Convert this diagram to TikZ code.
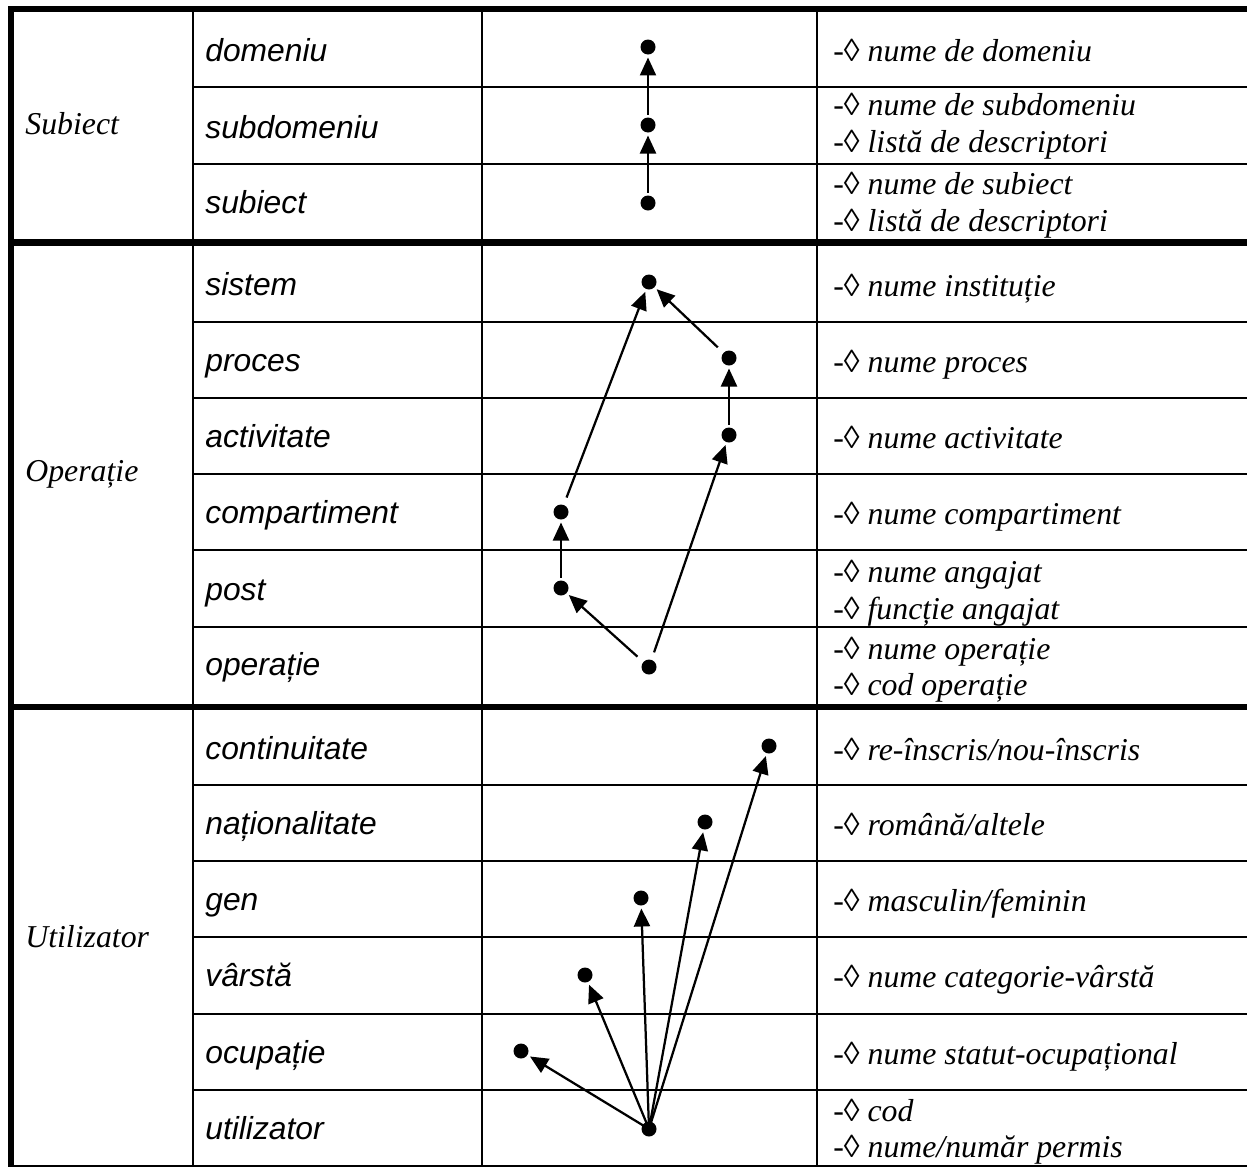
\documentclass[tikz,border=0pt]{standalone}
\usepackage{fontspec}
\setmainfont{Liberation Serif}
\newfontfamily\arialfont{Liberation Sans}
\usetikzlibrary{arrows.meta}

% one attribute line: upright dash and lozenge, italic name
\newcommand\attrtxt[1]{\textup{-\char"25CA}~\textit{#1}}

\begin{document}
\begin{tikzpicture}[x=0.02cm,y=-0.02cm,
  thinrule/.style={line width=0.04cm},
  thickrule/.style={line width=0.13cm},
  grp/.style={anchor=base west, inner sep=0, font=\fontsize{18.1pt}{21pt}\selectfont\itshape},
  item/.style={anchor=base west, inner sep=0, font=\fontsize{18.1pt}{21pt}\selectfont\arialfont\itshape},
  attr/.style={anchor=base west, inner sep=0, font=\fontsize{18.1pt}{21pt}\selectfont},
  dot/.style={circle, fill, inner sep=0, minimum size=0.3cm, outer sep=0.06cm},
  link/.style={line width=0.045cm, -{Triangle[length=0.36cm,width=0.32cm]}},
]
\useasboundingbox (0,0) rectangle (1247,1167);

% ---- table rules ----
\foreach \y in {87,164,322,398,474,550,627,785,861,937,1014,1090}
  \draw[thinrule] (193,\y) -- (1247,\y);
\foreach \x in {193,482,817}
  \draw[thinrule] (\x,9) -- (\x,1167);
\draw[thinrule] (11,1166) -- (1247,1166);
\draw[thickrule] (8,9) -- (1247,9);
\draw[thickrule] (11,242.5) -- (1247,242.5);
\draw[thickrule] (11,707) -- (1247,707);
\draw[line width=0.13cm] (11,6) -- (11,1167);

% ---- group labels ----
\node[grp] (gSubiect) at (25,134) {Subiect};
\node[grp] (gOperatie) at (25,481) {Operație};
\node[grp] (gUtilizator) at (25,947) {Utilizator};

% ---- level names ----
\node[item] (nDom) at (205,61) {domeniu};
\node[item] (nSubdom) at (205,138) {subdomeniu};
\node[item] (nSubj) at (205,213) {subiect};
\node[item] (nSis) at (205,295) {sistem};
\node[item] (nPro) at (205,371) {proces};
\node[item] (nAct) at (205,447) {activitate};
\node[item] (nComp) at (205,523) {compartiment};
\node[item] (nPost) at (205,600) {post};
\node[item] (nOp) at (205,675) {operație};
\node[item] (nCont) at (205,759) {continuitate};
\node[item] (nNat) at (205,834) {naționalitate};
\node[item] (nGen) at (205,910) {gen};
\node[item] (nVar) at (205,986) {vârstă};
\node[item] (nOcup) at (205,1063) {ocupație};
\node[item] (nUtil) at (205,1139) {utilizator};

% ---- attributes ----
\node[attr] (aDom) at (833,61) {\attrtxt{nume de domeniu}};
\node[attr] (aSub1) at (833,115) {\attrtxt{nume de subdomeniu}};
\node[attr] (aSub2) at (833,152) {\attrtxt{listă de descriptori}};
\node[attr] (aSubj1) at (833,194) {\attrtxt{nume de subiect}};
\node[attr] (aSubj2) at (833,231) {\attrtxt{listă de descriptori}};
\node[attr] (aSis) at (833,296) {\attrtxt{nume instituție}};
\node[attr] (aPro) at (833,372) {\attrtxt{nume proces}};
\node[attr] (aAct) at (833,448) {\attrtxt{nume activitate}};
\node[attr] (aComp) at (833,524) {\attrtxt{nume compartiment}};
\node[attr] (aPost1) at (833,582) {\attrtxt{nume angajat}};
\node[attr] (aPost2) at (833,619) {\attrtxt{funcție angajat}};
\node[attr] (aOp1) at (833,659) {\attrtxt{nume operație}};
\node[attr] (aOp2) at (833,695) {\attrtxt{cod operație}};
\node[attr] (aCont) at (833,760) {\attrtxt{re-înscris/nou-înscris}};
\node[attr] (aNat) at (833,835) {\attrtxt{română/altele}};
\node[attr] (aGen) at (833,911) {\attrtxt{masculin/feminin}};
\node[attr] (aVar) at (833,987) {\attrtxt{nume categorie-vârstă}};
\node[attr] (aOcup) at (833,1064) {\attrtxt{nume statut-ocupațional}};
\node[attr] (aUtil1) at (833,1121) {\attrtxt{cod}};
\node[attr] (aUtil2) at (833,1157) {\attrtxt{nume/număr permis}};

% ---- hierarchy points ----
\node[dot] (dDom) at (648,47) {};
\node[dot] (dSubdom) at (648,125) {};
\node[dot] (dSubj) at (648,203) {};

\node[dot] (dSis) at (649,282) {};
\node[dot] (dPro) at (729,358) {};
\node[dot] (dAct) at (729,435) {};
\node[dot] (dComp) at (561,512) {};
\node[dot] (dPost) at (561,588) {};
\node[dot] (dOp) at (649,667) {};

\node[dot] (dCont) at (769,746) {};
\node[dot] (dNat) at (705,822) {};
\node[dot] (dGen) at (641,898) {};
\node[dot] (dVar) at (585,975) {};
\node[dot] (dOcup) at (521,1051) {};
\node[dot] (dUtil) at (649,1129) {};

% ---- links ----
\draw[link] (dSubj) -- (dSubdom);
\draw[link] (dSubdom) -- (dDom);

\draw[link, shorten <=0.1cm] (dOp) -- (dPost);
\draw[link, shorten <=0.1cm] (dOp) -- (dAct);
\draw[link] (dPost) -- (dComp);
\draw[link, shorten <=0.1cm] (dComp) -- (dSis);
\draw[link] (dAct) -- (dPro);
\draw[link, shorten <=0.1cm] (dPro) -- (dSis);

\draw[link] (dUtil.center) -- (dOcup);
\draw[link] (dUtil.center) -- (dVar);
\draw[link] (dUtil.center) -- (dGen);
\draw[link] (dUtil.center) -- (dNat);
\draw[link] (dUtil.center) -- (dCont);
\end{tikzpicture}
\end{document}
